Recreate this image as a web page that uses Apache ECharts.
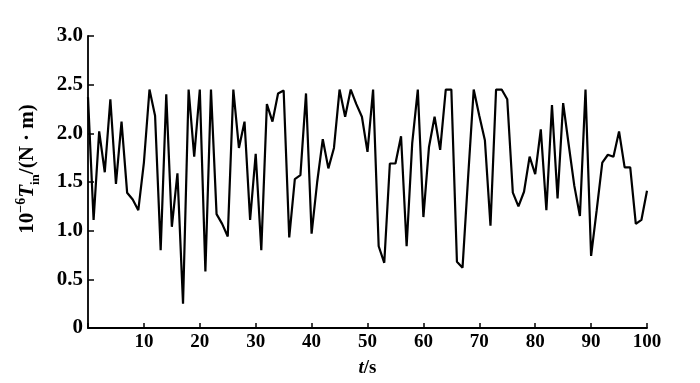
<!DOCTYPE html>
<html>
<head>
<meta charset="utf-8">
<script src="https://cdn.jsdelivr.net/npm/echarts@6/dist/echarts.min.js"></script>
<style>html,body{margin:0;padding:0;background:#fff}#c{width:700px;height:383px}</style>
</head>
<body>
<div id="c"></div>
<script>
const times = [];
for (let i = 0; i <= 100; i++) times.push(i);
const torque = [
  2.37, 1.11, 2.02, 1.60, 2.35, 1.48, 2.12, 1.39, 1.32, 1.21,
  1.70, 2.45, 2.18, 0.80, 2.40, 1.04, 1.59, 0.25, 2.45, 1.76,
  2.45, 0.58, 2.45, 1.17, 1.07, 0.94, 2.45, 1.85, 2.12, 1.11,
  1.79, 0.80, 2.30, 2.12, 2.41, 2.44, 0.93, 1.53, 1.57, 2.41,
  0.97, 1.50, 1.94, 1.64, 1.85, 2.45, 2.17, 2.45, 2.30, 2.17,
  1.81, 2.45, 0.84, 0.67, 1.69, 1.69, 1.97, 0.84, 1.90, 2.45,
  1.14, 1.86, 2.17, 1.83, 2.45, 2.45, 0.68, 0.62, 1.55, 2.45,
  2.18, 1.93, 1.05, 2.45, 2.45, 2.35, 1.39, 1.25, 1.40, 1.76,
  1.58, 2.04, 1.21, 2.29, 1.33, 2.31, 1.88, 1.46, 1.15, 2.45,
  0.74, 1.21, 1.70, 1.78, 1.76, 2.02, 1.65, 1.65, 1.07, 1.11,
  1.41
];
const xTicks = [0, 10, 20, 30, 40, 50, 60, 70, 80, 90, 100];
const yTicks = [0, 0.5, 1.0, 1.5, 2.0, 2.5, 3.0];

const FONT = '"Liberation Serif", "Times New Roman", serif';
const chart = echarts.init(document.getElementById('c'), null, {renderer: 'canvas'});
chart.setOption({
  animation: false,
  backgroundColor: '#fff',
  grid: {left: 88, right: 53, top: 36, bottom: 50, containLabel: false},
  xAxis: {
    type: 'value', min: xTicks[0], max: xTicks[xTicks.length - 1], interval: 10,
    axisLine: {lineStyle: {color: '#000', width: 1.8}},
    axisTick: {inside: true, length: 5, lineStyle: {color: '#000', width: 1.5}},
    splitLine: {show: false},
    axisLabel: {
      color: '#000', fontFamily: FONT, fontSize: 19, fontWeight: 'bold', margin: 5,
      formatter: v => (v === 0 ? '' : String(v))
    },
    name: '{it|t}{n|/s}',
    nameLocation: 'middle', nameGap: 31,
    nameTextStyle: {
      rich: {
        it: {fontFamily: FONT, fontSize: 19, fontStyle: 'italic', fontWeight: 'bold', color: '#000'},
        n: {fontFamily: FONT, fontSize: 19, fontWeight: 'bold', color: '#000'}
      }
    }
  },
  yAxis: {
    type: 'value', min: yTicks[0], max: yTicks[yTicks.length - 1], interval: 0.5,
    axisLine: {show: true, lineStyle: {color: '#000', width: 1.8}},
    axisTick: {show: true, inside: true, length: 6, lineStyle: {color: '#000', width: 1.5}},
    splitLine: {show: false},
    axisLabel: {
      color: '#000', fontFamily: FONT, fontSize: 21, fontWeight: 'bold', margin: 5,
      formatter: v => (v === 0 ? '0' : v.toFixed(1))
    },
    name: '{n|10}{sup|−6}{it|T}{sub|in}{n|/(N · m)}',
    nameLocation: 'middle', nameGap: 46, nameRotate: 90,
    nameTextStyle: {
      padding: [0, 0, 0, 26],
      rich: {
        n: {fontFamily: FONT, fontSize: 21, fontWeight: 'bold', color: '#000', lineHeight: 28, verticalAlign: 'middle'},
        sup: {fontFamily: FONT, fontSize: 14, fontWeight: 'bold', color: '#000', lineHeight: 28, verticalAlign: 'top', padding: [0, 0, 6, 0]},
        it: {fontFamily: FONT, fontSize: 21, fontStyle: 'italic', fontWeight: 'bold', color: '#000', lineHeight: 28, verticalAlign: 'middle'},
        sub: {fontFamily: FONT, fontSize: 13, fontWeight: 'bold', color: '#000', lineHeight: 28, verticalAlign: 'bottom', padding: [6, 0, 0, 0]}
      }
    }
  },
  series: [{
    type: 'line',
    data: times.map((t, i) => [t, torque[i]]),
    showSymbol: false,
    symbol: 'none',
    lineStyle: {color: '#000', width: 2.2},
    z: 3
  }]
});
</script>
</body>
</html>
